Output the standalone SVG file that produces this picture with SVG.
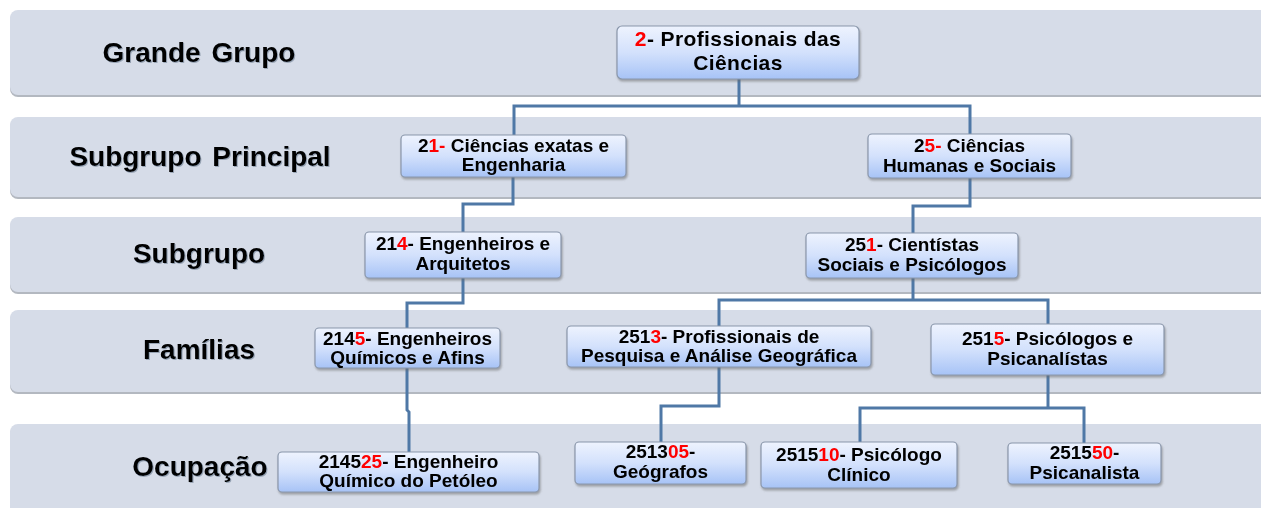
<svg xmlns="http://www.w3.org/2000/svg" width="1261" height="508" viewBox="0 0 1261 508">
<defs>
<linearGradient id="boxg" x1="0" y1="0" x2="0" y2="1">
<stop offset="0" stop-color="#eef3fe"/>
<stop offset="0.5" stop-color="#d3e1fc"/>
<stop offset="1" stop-color="#a7c3f6"/>
</linearGradient>
<filter id="sh" x="-10%" y="-20%" width="120%" height="150%">
<feDropShadow dx="1" dy="2" stdDeviation="1" flood-color="#6b6b6b" flood-opacity="0.55"/>
</filter>
<filter id="tsh" x="-5%" y="-20%" width="110%" height="140%">
<feDropShadow dx="1" dy="1" stdDeviation="0.6" flood-color="#5a6a80" flood-opacity="0.5"/>
</filter>
</defs>
<style>
.band{fill:#d6dce8}
.bandsh{fill:#b3b8c0}
.lbl{font-family:"Liberation Sans",Arial,sans-serif;font-weight:bold;font-size:28px;fill:#000;text-anchor:middle}
.box{fill:url(#boxg);stroke:#8a97ab;stroke-width:1.2}
.t{font-family:"Liberation Sans",Arial,sans-serif;font-weight:bold;font-size:19px;fill:#000;text-anchor:middle}
.big{font-size:21px;letter-spacing:0.4px}
.r{fill:#ff0000}
.con{fill:none;stroke:#4f78a6;stroke-width:3;stroke-linejoin:miter}
</style>
<rect width="1261" height="508" fill="#ffffff"/>
<g id="bands">
<rect class="bandsh" x="10" y="12" width="1280" height="85" rx="8"/>
<rect class="band" x="10" y="10" width="1280" height="85" rx="8"/>
<rect class="bandsh" x="10" y="119" width="1280" height="80" rx="8"/>
<rect class="band" x="10" y="117" width="1280" height="80" rx="8"/>
<rect class="bandsh" x="10" y="219" width="1280" height="75" rx="8"/>
<rect class="band" x="10" y="217" width="1280" height="75" rx="8"/>
<rect class="bandsh" x="10" y="312" width="1280" height="82" rx="8"/>
<rect class="band" x="10" y="310" width="1280" height="82" rx="8"/>
<rect class="bandsh" x="10" y="426" width="1280" height="100" rx="8"/>
<rect class="band" x="10" y="424" width="1280" height="100" rx="8"/>
</g>
<g id="labels" filter="url(#tsh)">
<text class="lbl" x="199" y="62" word-spacing="3">Grande Grupo</text>
<text class="lbl" x="200" y="166" word-spacing="3">Subgrupo Principal</text>
<text class="lbl" x="199" y="263">Subgrupo</text>
<text class="lbl" x="199" y="359">Famílias</text>
<text class="lbl" x="200" y="476">Ocupação</text>
</g>
<g id="connectors">
<path class="con" d="M739,79 V106"/>
<path class="con" d="M514,135 V106 H970 V134"/>
<path class="con" d="M513,177 V204 H463 V232"/>
<path class="con" d="M970,178 V206 H913 V233"/>
<path class="con" d="M463,278 V303 H407 V328"/>
<path class="con" d="M407,368 V410 L409,412 V452"/>
<path class="con" d="M913,278 V300"/>
<path class="con" d="M719,326 V300 H1048 V324"/>
<path class="con" d="M719,367 V406 H661 V442"/>
<path class="con" d="M1048,375 V408"/>
<path class="con" d="M860,442 V408 H1084 V443"/>
</g>
<g id="n2" filter="url(#sh)">
<rect class="box" x="617" y="26" width="242" height="53" rx="5"/>
<text class="t big" x="738" y="46"><tspan class="r">2</tspan>- Profissionais das</text>
<text class="t big" x="738" y="70">Ciências</text>
</g>
<g id="n21" filter="url(#sh)">
<rect class="box" x="401" y="135" width="225" height="42" rx="4"/>
<text class="t" x="513.5" y="152">2<tspan class="r">1-</tspan> Ciências exatas e</text>
<text class="t" x="513.5" y="171">Engenharia</text>
</g>
<g id="n25" filter="url(#sh)">
<rect class="box" x="868" y="134" width="203" height="44" rx="4"/>
<text class="t" x="969.5" y="152">2<tspan class="r">5-</tspan> Ciências</text>
<text class="t" x="969.5" y="172">Humanas e Sociais</text>
</g>
<g id="n214" filter="url(#sh)">
<rect class="box" x="365" y="232" width="196" height="46" rx="4"/>
<text class="t" x="463" y="250">21<tspan class="r">4</tspan>- Engenheiros e</text>
<text class="t" x="463" y="270">Arquitetos</text>
</g>
<g id="n251" filter="url(#sh)">
<rect class="box" x="806" y="233" width="212" height="45" rx="4"/>
<text class="t" x="912" y="251">25<tspan class="r">1</tspan>- Cientístas</text>
<text class="t" x="912" y="271">Sociais e Psicólogos</text>
</g>
<g id="n2145" filter="url(#sh)">
<rect class="box" x="315" y="328" width="185" height="40" rx="4"/>
<text class="t" x="407.5" y="345">214<tspan class="r">5</tspan>- Engenheiros</text>
<text class="t" x="407.5" y="364">Químicos e Afins</text>
</g>
<g id="n2513" filter="url(#sh)">
<rect class="box" x="567" y="326" width="304" height="41" rx="4"/>
<text class="t" x="719" y="343">251<tspan class="r">3</tspan>- Profissionais de</text>
<text class="t" x="719" y="362">Pesquisa e Análise Geográfica</text>
</g>
<g id="n2515" filter="url(#sh)">
<rect class="box" x="931" y="324" width="233" height="51" rx="4"/>
<text class="t" x="1047.5" y="345">251<tspan class="r">5</tspan>- Psicólogos e</text>
<text class="t" x="1047.5" y="365">Psicanalístas</text>
</g>
<g id="n214525" filter="url(#sh)">
<rect class="box" x="278" y="452" width="261" height="40" rx="4"/>
<text class="t" x="408.5" y="468">2145<tspan class="r">25</tspan>- Engenheiro</text>
<text class="t" x="408.5" y="487">Químico do Petóleo</text>
</g>
<g id="n251305" filter="url(#sh)">
<rect class="box" x="575" y="442" width="171" height="42" rx="4"/>
<text class="t" x="660.5" y="458">2513<tspan class="r">05</tspan>-</text>
<text class="t" x="660.5" y="478">Geógrafos</text>
</g>
<g id="n251510" filter="url(#sh)">
<rect class="box" x="761" y="442" width="196" height="46" rx="4"/>
<text class="t" x="859" y="461">2515<tspan class="r">10</tspan>- Psicólogo</text>
<text class="t" x="859" y="481">Clínico</text>
</g>
<g id="n251550" filter="url(#sh)">
<rect class="box" x="1008" y="443" width="153" height="41" rx="4"/>
<text class="t" x="1084.5" y="459">2515<tspan class="r">50</tspan>-</text>
<text class="t" x="1084.5" y="479">Psicanalista</text>
</g>
</svg>
